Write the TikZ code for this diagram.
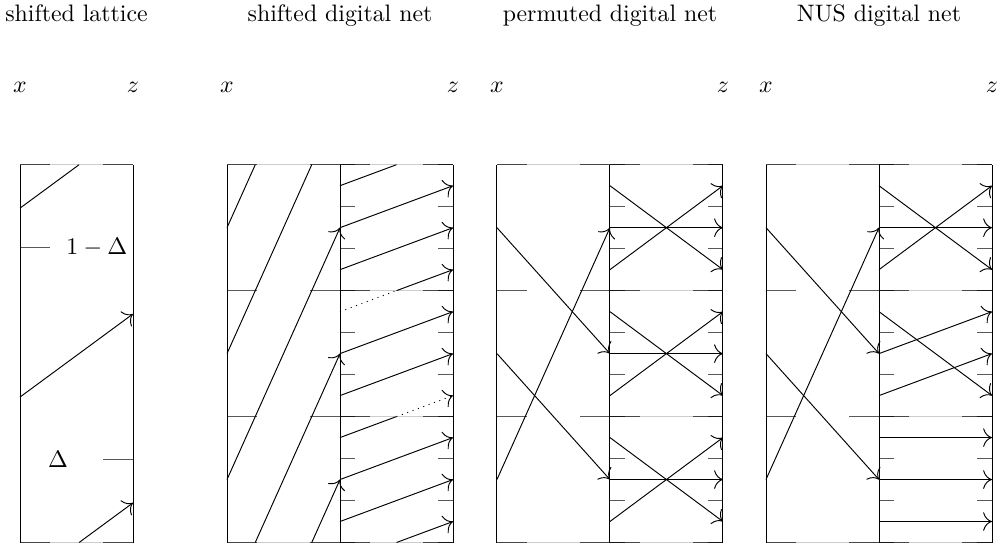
\documentclass[tikz,border=0pt]{standalone}
\usepackage{tikz}
\usetikzlibrary{arrows,arrows.meta}
\usetikzlibrary{calc}
\usetikzlibrary{positioning}
\usepackage{amsmath}

\begin{document}
\begin{tikzpicture}[x=47.46pt,y=158.68pt,>={To[scale=1.5]},thin,
    rim/.style={gray!40,line width=0.5pt},
    long tick/.style={black,opacity=0.65,line width=0.55pt},
    short tick/.style={black,opacity=0.65,line width=0.55pt},
    mapline/.style={->},
    label node/.style={anchor=base,inner sep=0pt}]

    \useasboundingbox (-0.177,-0.0172) rectangle (8.726,1.436);

    % light rims at the cell borders
    \foreach \o in {0,1.832,2.832,4.221,5.221,6.602,7.602}
        \draw[rim] (\o,0) -- ++(1,0) (\o,1) -- ++(1,0);
    \foreach \o in {2.832,5.221,7.602}
        \draw[rim] (\o,1/3) -- ++(1,0) (\o,2/3) -- ++(1,0);

    % ticks
    \foreach \o in {1.832,2.832,4.221,5.221,6.602,7.602}
        \foreach \l in {0,1/3,2/3,1}
            \draw[long tick] (\o,\l) -- ++(0.265,0) (\o+1,\l) -- ++(-0.265,0);
    \foreach \o in {2.832,5.221,7.602}
        \foreach \k in {0,...,9}
            \draw[short tick] (\o,\k/9) -- ++(0.133,0) (\o+1,\k/9) -- ++(-0.133,0);
    \draw[long tick] (0,0) -- ++(0.265,0) (1,0) -- ++(-0.265,0)
        (0,1) -- ++(0.265,0) (1,1) -- ++(-0.265,0);
    \draw[long tick] (0,0.78) -- ++(0.265,0);
    \draw[long tick] (1,0.22) -- ++(-0.265,0);

    % vertical edges
    \foreach \o in {0,1,1.832,2.832,3.832,4.221,5.221,6.221,6.602,7.602,8.602}
        \draw (\o,0) -- (\o,1);

    % titles and axis labels
    \node[label node] (title-lattice) at (0.5,1.38) {shifted lattice};
    \node[label node] (title-shifted) at (2.832,1.38) {shifted digital net};
    \node[label node] (title-permuted) at (5.221,1.38) {permuted digital net};
    \node[label node] (title-nus) at (7.602,1.38) {NUS digital net};
    \foreach \o/\n in {0/lattice,1.832/shifted,4.221/permuted,6.602/nus} {
        \node[label node] (x-\n) at (\o,1.19) {$x$};
        \node[label node] (z-\n) at (\o+\ifdim\o pt=0pt 1\else 2\fi,1.19) {$z$};
    }
    \node (one-minus-delta) at (0.68,0.78) {$1-\Delta$};
    \node (delta) at (0.336,0.22) {$\Delta$};

    % shifted lattice
    \draw[mapline] (0,0.385) -- (1,0.605);
    \draw (0,0.885) -- (0.523,1);
    \draw[mapline] (0.523,0) -- (1,0.105);

    % shifted digital net
    \begin{scope}[shift={(1.832,0)}]
        \draw[mapline] (0,1/6) -- (1,5/6);
        \draw (0,1/2) -- (0.75,1);
        \draw[mapline] (0.75,0) -- (1,1/6);
        \draw (0,5/6) -- (0.25,1);
        \draw[mapline] (0.25,0) -- (1,1/2);
    \end{scope}
    \begin{scope}[shift={(2.832,0)}]
        \foreach \c in {0,1/3,2/3} {
            \draw[mapline] (0,\c+1/18) -- (1,\c+3/18);
            \draw[mapline] (0,\c+3/18) -- (1,\c+5/18);
        }
        \draw (0,5/18) -- (0.5,1/3);
        \draw[mapline] (0.5,0) -- (1,1/18);
        \draw[dotted] (0,1/3+5/18) -- (0.5,2/3);
        \draw[mapline,dotted] (0.5,1/3) -- (1,1/3+1/18);
        \draw (0,2/3+5/18) -- (0.5,1);
        \draw[mapline] (0.5,2/3) -- (1,2/3+1/18);
    \end{scope}

    % permuted digital net
    \begin{scope}[shift={(4.221,0)}]
        \draw[mapline] (0,5/6) -- (1,1/2);
        \draw[mapline] (0,1/2) -- (1,1/6);
        \draw[mapline] (0,1/6) -- (1,5/6);
    \end{scope}
    \begin{scope}[shift={(5.221,0)}]
        \foreach \c in {0,1/3,2/3} {
            \draw[mapline] (0,\c+5/18) -- (1,\c+1/18);
            \draw[mapline] (0,\c+3/18) -- (1,\c+3/18);
            \draw[mapline] (0,\c+1/18) -- (1,\c+5/18);
        }
    \end{scope}

    % NUS digital net
    \begin{scope}[shift={(6.602,0)}]
        \draw[mapline] (0,5/6) -- (1,1/2);
        \draw[mapline] (0,1/2) -- (1,1/6);
        \draw[mapline] (0,1/6) -- (1,5/6);
    \end{scope}
    \begin{scope}[shift={(7.602,0)}]
        \draw[mapline] (0,2/3+5/18) -- (1,2/3+1/18);
        \draw[mapline] (0,2/3+3/18) -- (1,2/3+3/18);
        \draw[mapline] (0,2/3+1/18) -- (1,2/3+5/18);
        \draw[mapline] (0,1/3+5/18) -- (1,1/3+1/18);
        \draw[mapline] (0,1/3+3/18) -- (1,1/3+5/18);
        \draw[mapline] (0,1/3+1/18) -- (1,1/3+3/18);
        \foreach \l in {1/18,3/18,5/18}
            \draw[mapline] (0,\l) -- (1,\l);
    \end{scope}

\end{tikzpicture}
\end{document}
